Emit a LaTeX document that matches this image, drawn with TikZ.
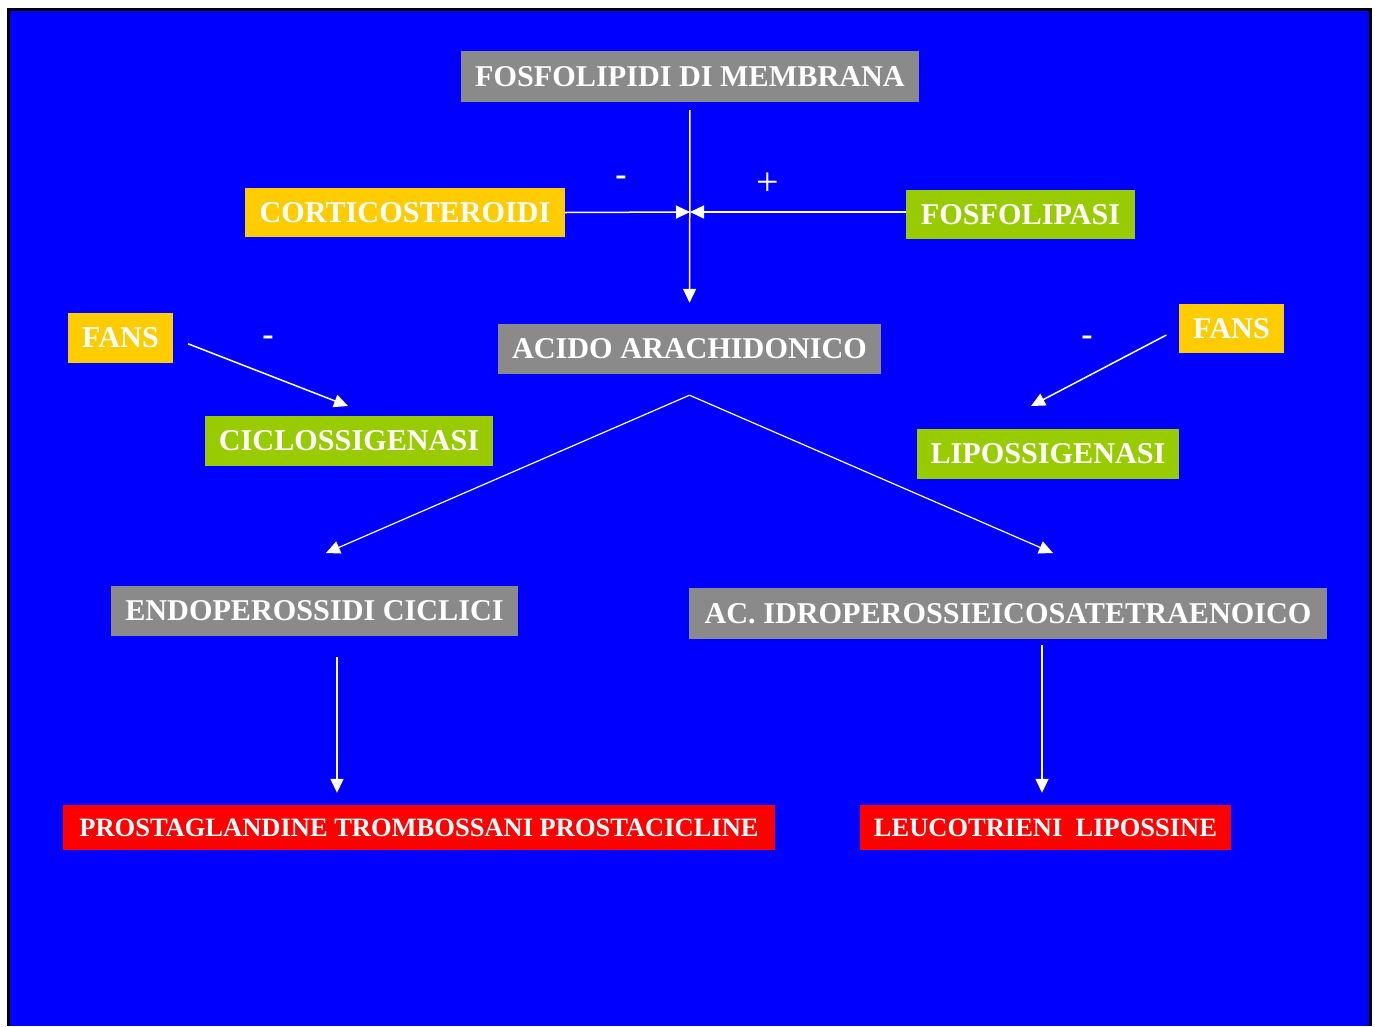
\documentclass[tikz,border=0pt]{standalone}
\usepackage{fontspec}
\setmainfont{Liberation Serif}
\usepackage{tikz}
\usetikzlibrary{arrows.meta,positioning}
\definecolor{slideblue}{HTML}{0000FF}
\definecolor{myyellow}{HTML}{FFCC00}
\definecolor{mygreen}{HTML}{99CC00}
\definecolor{myred}{HTML}{FF0000}
\definecolor{mygray}{HTML}{8A8A8A}
\tikzset{
  box/.style={inner sep=0pt, text=white, font=\fontsize{30.2}{32}\selectfont\bfseries,
              anchor=center},
  graybox/.style={box, fill=mygray},
  yellowbox/.style={box, fill=myyellow},
  greenbox/.style={box, fill=mygreen},
  redbox/.style={box, fill=myred, font=\fontsize{26.5}{28}\selectfont\bfseries},
  arr/.style={-{Triangle[length=14pt,width=13pt]}, line width=1.5pt, draw=white},
  lab/.style={text=white, font=\fontsize{34}{36}\selectfont\bfseries},
}
\begin{document}
\begin{tikzpicture}[x=1pt,y=-1pt]
    \useasboundingbox (0,0) rectangle (1375,1026);
    \fill[white] (0,0) rectangle (1375,1026);
    \fill[slideblue] (8,9) rectangle (1371,1026);
    \draw[line width=3pt] (8.5,1026) -- (8.5,9.5) -- (1370.5,9.5) -- (1370.5,1026);
    % boxes
    \node[graybox, minimum width=458pt, minimum height=51pt] (fosfo) at (690,76.5) {FOSFOLIPIDI DI MEMBRANA};
    \node[yellowbox, minimum width=320pt, minimum height=49pt] (cortico) at (405,212.5) {CORTICOSTEROIDI};
    \node[greenbox, minimum width=229pt, minimum height=49pt] (lipasi) at (1020.5,214.5) {FOSFOLIPASI};
    \node[graybox, minimum width=383pt, minimum height=50pt] (acido) at (689.5,349) {ACIDO ARACHIDONICO};
    \node[yellowbox, minimum width=105pt, minimum height=50pt] (fansL) at (120.5,338) {FANS};
    \node[greenbox, minimum width=288pt, minimum height=50pt] (ciclo) at (349,441) {CICLOSSIGENASI};
    \node[yellowbox, minimum width=105pt, minimum height=49pt] (fansR) at (1231.5,328.5) {FANS};
    \node[greenbox, minimum width=262pt, minimum height=50pt] (lipo) at (1048,454) {LIPOSSIGENASI};
    \node[graybox, minimum width=407pt, minimum height=50pt] (endo) at (314.5,611) {ENDOPEROSSIDI CICLICI};
    \node[graybox, minimum width=638pt, minimum height=51pt] (idro) at (1008,613.5) {AC. IDROPEROSSIEICOSATETRAENOICO};
    \node[redbox, minimum width=712pt, minimum height=45pt] (prosta) at (419,827.5) {PROSTAGLANDINE TROMBOSSANI PROSTACICLINE\hspace{8pt}};
    \node[redbox, minimum width=371pt, minimum height=45pt] (leuco) at (1045.5,827.5) {LEUCOTRIENI~~LIPOSSINE};
    % signs
    \node[lab] (mc) at (621,181) {-};
    \node[lab, font=\fontsize{40}{42}\selectfont] (pl) at (768,184) {+};
    \node[lab] (ml) at (268,341) {-};
    \node[lab] (mr) at (1087,341) {-};
    % helper points
    \coordinate (meet) at (690,212);
    \coordinate (coxTip) at (348,406);
    \coordinate (loxTip) at (1031,406);
    \coordinate (fork) at ([yshift=-21pt]acido.south);
    \coordinate (endoTip) at (326,553);
    \coordinate (idroTip) at (1053,553);
    \coordinate (pgx) at (337,0);
    \coordinate (ltx) at (1042,0);
    % connectors
    \draw[arr, shorten <=8pt, shorten >=21pt] (fosfo.south) -- (acido.north);
    \draw[arr] (cortico.east) -- (meet);
    \draw[arr] (lipasi.west |- meet) -- (meet);
    \draw[arr, shorten <=16pt] (fansL.east) -- (coxTip);
    \draw[arr, shorten <=14pt] (fansR.west) -- (loxTip);
    \draw[arr, line width=1.2pt] (fork) -- (endoTip);
    \draw[arr, line width=1.2pt] (fork) -- (idroTip);
    \draw[arr, shorten <=21pt, shorten >=12pt] (endo.south -| pgx) -- (prosta.north -| pgx);
    \draw[arr, shorten <=6pt, shorten >=12pt] (idro.south -| ltx) -- (leuco.north -| ltx);
\end{tikzpicture}
\end{document}
